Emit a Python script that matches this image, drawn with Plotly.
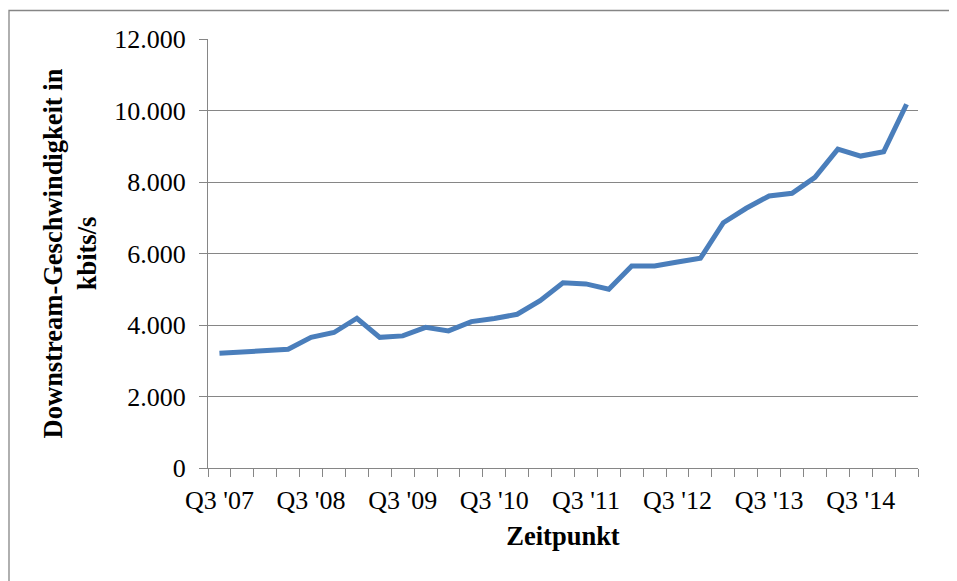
import plotly.graph_objects as go

quarters = ["Q3 '07", "Q4 '07",
            "Q1 '08", "Q2 '08", "Q3 '08", "Q4 '08",
            "Q1 '09", "Q2 '09", "Q3 '09", "Q4 '09",
            "Q1 '10", "Q2 '10", "Q3 '10", "Q4 '10",
            "Q1 '11", "Q2 '11", "Q3 '11", "Q4 '11",
            "Q1 '12", "Q2 '12", "Q3 '12", "Q4 '12",
            "Q1 '13", "Q2 '13", "Q3 '13", "Q4 '13",
            "Q1 '14", "Q2 '14", "Q3 '14", "Q4 '14",
            "Q1 '15"]

speed_kbits = [3210, 3245, 3285, 3320, 3655, 3790, 4190, 3655, 3695, 3935,
               3835, 4095, 4180, 4300, 4680, 5180, 5150, 5000, 5650, 5650,
               5760, 5865, 6860, 7265, 7610, 7685, 8130, 8920, 8725, 8845,
               10175]

y_ticks = [0, 2000, 4000, 6000, 8000, 10000, 12000]

blue = "#4A7EBB"
grid = "#868686"
font_family = "Liberation Serif, Times New Roman, serif"

# the page body adds an 8px offset, so the figure is sized to fill the rest
W, H = 949, 573
ML, MT, PW, PH = 200, 31, 710, 429

fig = go.Figure()
fig.add_trace(go.Scatter(
    x=quarters, y=speed_kbits, mode="lines",
    line=dict(color=blue, width=5),
    showlegend=False,
))

fig.update_layout(
    width=W, height=H,
    margin=dict(l=ML, r=W - ML - PW, t=MT, b=H - MT - PH, autoexpand=False),
    paper_bgcolor="white", plot_bgcolor="white",
    separators=",.",
    font=dict(family=font_family, size=26, color="black"),
    shapes=[dict(type="rect", xref="paper", yref="paper",
                 x0=(1 - ML) / PW, x1=1.2, y0=-0.5, y1=(PH + MT - 2.5) / PH,
                 line=dict(color=grid, width=1.3), fillcolor="rgba(0,0,0,0)",
                 layer="below")],
)

fig.update_xaxes(
    type="category", range=[-0.5, len(quarters) - 0.5],
    tickson="boundaries", dtick=1, ticklabelstep=4, tickangle=0,
    ticks="outside", ticklen=8, tickwidth=1.3, tickcolor=grid,
    ticklabelstandoff=9,
    showline=True, linecolor=grid, linewidth=1.3,
    showgrid=False, zeroline=False,
    tickfont=dict(size=26),
    title=dict(text="<b>Zeitpunkt</b>", font=dict(size=26.5), standoff=12),
)

fig.update_yaxes(
    range=[0, 12000], tickvals=y_ticks, tickformat=",",
    ticks="outside", ticklen=8, tickwidth=1.3, tickcolor=grid,
    ticklabelstandoff=8,
    showline=True, linecolor=grid, linewidth=1.3,
    showgrid=True, gridcolor=grid, gridwidth=1.3, zeroline=False,
    tickfont=dict(size=26),
    title=dict(text="<b>Downstream-Geschwindigkeit in<br>kbits/s</b>",
               font=dict(size=26.5), standoff=9),
)

fig.write_html("out.html")
